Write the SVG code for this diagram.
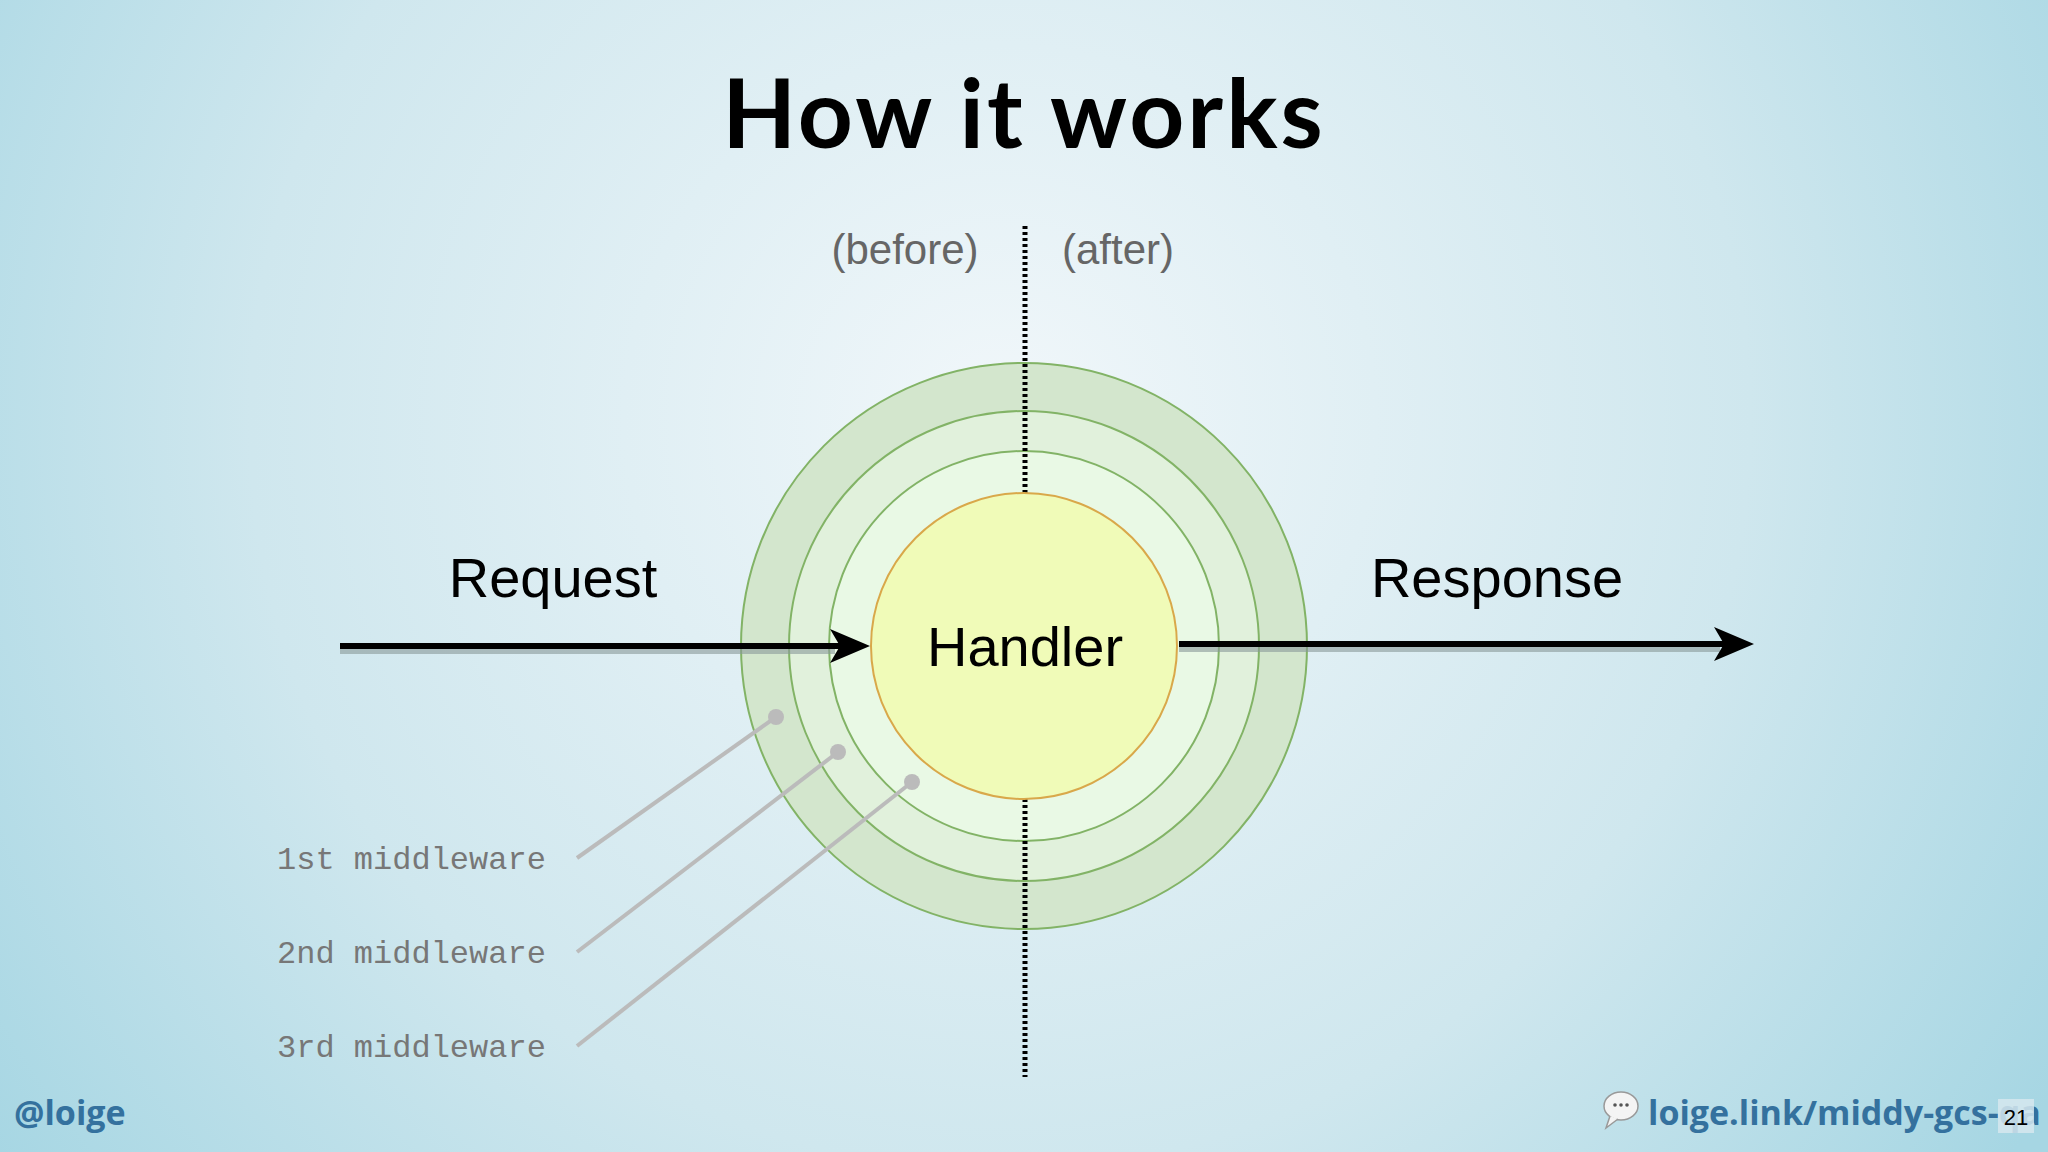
<svg xmlns="http://www.w3.org/2000/svg" width="2048" height="1152" viewBox="0 0 2048 1152">
<defs>
<radialGradient id="bg" cx="1000" cy="420" r="1250" gradientUnits="userSpaceOnUse">
<stop offset="0" stop-color="#f1f7fa"/><stop offset="0.6" stop-color="#cfe7ee"/><stop offset="1" stop-color="#a6d6e3"/>
</radialGradient>
<style>
.ring{stroke:#82b366;stroke-width:2}
.lbl{font-family:"Liberation Sans",Arial,sans-serif;fill:#000}
.mw{font-family:"Liberation Mono",monospace;font-size:32px;fill:#777}
.ld{stroke:#bbb;stroke-width:4;fill:none}
.dot{fill:#bbb}
.ba{font-family:"Liberation Sans",Arial,sans-serif;font-size:42px;fill:#666;text-anchor:middle}
.foot{font-family:"Open Sans",sans-serif;font-weight:bold;font-size:34px;fill:#34719e}
.dl{stroke:#000;stroke-width:5;stroke-dasharray:3,3}
</style>
</defs>
<rect width="2048" height="1152" fill="url(#bg)"/>
<text x="1024" y="148" text-anchor="middle" font-family="Lato,sans-serif" font-weight="bold" font-size="96" letter-spacing="3" fill="#000">How it works</text>
<g id="rings">
<circle cx="1024" cy="646" r="283" fill="#d3e6cd" class="ring"/>
<circle cx="1024" cy="646" r="235" fill="#e1f1dc" class="ring"/>
<circle cx="1024" cy="646" r="195" fill="#e9f9e5" class="ring"/>
</g>
<g id="connectors">
<line class="dl" x1="1025" y1="226" x2="1025" y2="494"/>
<line class="dl" x1="1025" y1="799" x2="1025" y2="1077"/>
<line x1="340" y1="651" x2="835" y2="651" stroke="#8a9a9a" stroke-width="6" opacity="0.6"/>
<line x1="340" y1="646" x2="842" y2="646" stroke="#000" stroke-width="6"/>
<path d="M830,629 L870,646 L830,663 L840,646 Z" fill="#000"/>
<line x1="1179" y1="649" x2="1720" y2="649" stroke="#8a9a9a" stroke-width="6" opacity="0.6"/>
<line x1="1179" y1="644" x2="1726" y2="644" stroke="#000" stroke-width="6"/>
<path d="M1714,627 L1754,644 L1714,661 L1724,644 Z" fill="#000"/>
<line class="ld" x1="577" y1="858" x2="776" y2="717"/><circle class="dot" cx="776" cy="717" r="8"/>
<line class="ld" x1="577" y1="952" x2="838" y2="752"/><circle class="dot" cx="838" cy="752" r="8"/>
<line class="ld" x1="577" y1="1046" x2="912" y2="782"/><circle class="dot" cx="912" cy="782" r="8"/>
</g>
<g id="handler">
<circle cx="1024" cy="646" r="153" fill="#f0fbb8" stroke="#d9a84a" stroke-width="2"/>
<text x="1025" y="666" text-anchor="middle" class="lbl" font-size="56">Handler</text>
</g>
<text x="905" y="264" class="ba">(before)</text>
<text x="1118" y="264" class="ba">(after)</text>
<text x="553" y="597" text-anchor="middle" class="lbl" font-size="56">Request</text>
<text x="1497" y="597" text-anchor="middle" class="lbl" font-size="56">Response</text>
<text x="277" y="869" class="mw">1st middleware</text>
<text x="277" y="963" class="mw">2nd middleware</text>
<text x="277" y="1057" class="mw">3rd middleware</text>
<text x="14" y="1125" class="foot">@loige</text>
<g id="bubble">
<ellipse cx="1621" cy="1106" rx="17" ry="14" fill="#f4f4f4" stroke="#999" stroke-width="1.5"/>
<path d="M1610,1116 L1606,1128 L1618,1119" fill="#f4f4f4" stroke="#999" stroke-width="1.5"/>
<circle cx="1615" cy="1105" r="1.8" fill="#555"/><circle cx="1621" cy="1105" r="1.8" fill="#555"/><circle cx="1627" cy="1105" r="1.8" fill="#555"/>
</g>
<text x="1648" y="1125" class="foot">loige.link/middy-gcs-qa</text>
<rect x="1998" y="1099" width="36" height="34" fill="#d6e8ee" opacity="0.85"/>
<text x="2016" y="1125" text-anchor="middle" font-family="Liberation Sans,sans-serif" font-size="22" fill="#000">21</text>
</svg>
